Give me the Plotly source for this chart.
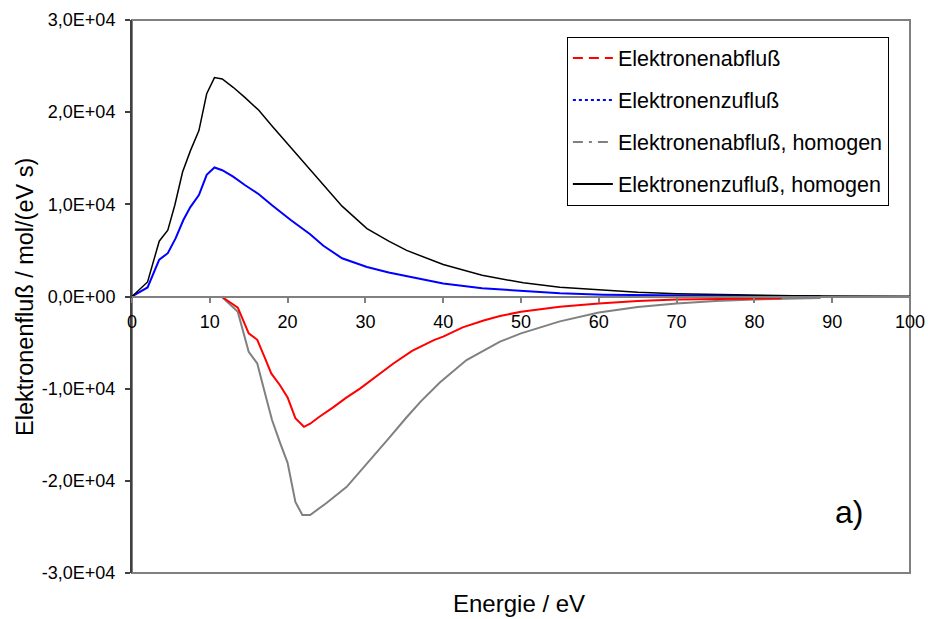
import plotly.graph_objects as go

# Energie / eV und Elektronenfluss / mol/(eV s)
x_abfluss = [11.5, 12.5, 13.6, 15.0, 16.1, 17.0, 17.9, 19.0, 20.0, 21.0, 22.1, 22.9, 24.0,
             25.9, 27.5, 29.3, 31.5, 33.6, 36.0, 38.8, 40.0, 42.5, 45.2, 47.3, 50.0, 55.0,
             60.0, 65.0, 70.0, 75.0, 80.0, 83.5]
y_abfluss = [0, -600, -1200, -4000, -4700, -6500, -8350, -9600, -10950, -13200, -14140, -13800,
             -13100, -12000, -11000, -10000, -8600, -7270, -5900, -4740, -4350, -3350, -2600,
             -2120, -1650, -1100, -760, -500, -330, -250, -200, -180]

x_zufluss = [0, 2.0, 3.5, 4.6, 5.6, 6.6, 7.5, 8.6, 9.6, 10.6, 11.6, 13.0, 14.5, 16.3, 18.0,
             20.4, 22.9, 24.6, 27.0, 30.2, 33.0, 35.3, 40.0, 45.0, 50.3, 55.0, 60.6, 65.0,
             70.0, 75.0, 80.0, 88.5]
y_zufluss = [0, 980, 4000, 4700, 6300, 8300, 9700, 11000, 13200, 14000, 13700, 13000, 12100,
             11100, 9900, 8300, 6750, 5500, 4150, 3200, 2600, 2200, 1400, 900, 570, 350, 200,
             140, 100, 70, 50, 30]

x_abfluss_hom = [11.5, 12.5, 13.6, 15.0, 16.1, 17.0, 18.0, 19.0, 20.0, 21.0, 21.9, 22.9, 25.0,
                 27.6, 29.0, 31.0, 33.0, 35.3, 37.1, 39.6, 43.0, 47.3, 50.0, 55.0, 60.0, 65.0,
                 70.0, 75.0, 80.0, 88.5]
y_abfluss_hom = [0, -800, -1670, -6000, -7270, -10200, -13400, -15800, -18050, -22300, -23700,
                 -23700, -22400, -20650, -19300, -17400, -15400, -13100, -11400, -9300, -6900,
                 -4900, -4000, -2700, -1740, -1150, -760, -500, -330, -150]

x_zufluss_hom = [0, 2.0, 3.5, 4.6, 5.5, 6.5, 7.5, 8.6, 9.6, 10.6, 11.6, 13.0, 14.5, 16.3, 18.0,
                 20.4, 22.9, 24.6, 27.0, 30.2, 33.0, 35.3, 40.0, 45.0, 50.3, 55.0, 60.6, 65.0,
                 70.0, 75.0, 80.0, 85.0, 90.0, 95.0, 100.0]
y_zufluss_hom = [0, 1580, 6000, 7200, 9900, 13500, 15800, 18000, 22000, 23750, 23600, 22700,
                 21600, 20200, 18500, 16200, 13750, 12200, 9800, 7370, 6000, 5000, 3470, 2300,
                 1480, 1000, 680, 450, 300, 200, 120, 80, 50, 30, 20]

y_tickvals = [-30000, -20000, -10000, 0, 10000, 20000, 30000]
y_ticktext = ["-3,0E+04", "-2,0E+04", "-1,0E+04", "0,0E+00", "1,0E+04", "2,0E+04", "3,0E+04"]
x_tickvals = [0, 10, 20, 30, 40, 50, 60, 70, 80, 90, 100]

FONT = "Liberation Sans, Arial, sans-serif"

series = [
    # name, x, y, colour, width, legend dash
    ("Elektronenabfluß", x_abfluss, y_abfluss, "#FF0000", 2, "10px,6px"),
    ("Elektronenzufluß", x_zufluss, y_zufluss, "#0000FF", 2, "3px,3px"),
    ("Elektronenabfluß, homogen", x_abfluss_hom, y_abfluss_hom, "#808080", 2, "10px,6px,3px,6px"),
    ("Elektronenzufluß, homogen", x_zufluss_hom, y_zufluss_hom, "#000000", 1.5, "solid"),
]

fig = go.Figure()

# data curves drawn solid
for name, xs, ys, col, w, dash in [series[2], series[0], series[1], series[3]]:
    fig.add_trace(go.Scatter(x=xs, y=ys, mode="lines", name=name,
                             line=dict(color=col, width=w), showlegend=False,
                             hoverinfo="skip"))

# legend entries carry the line styles
for i, (name, xs, ys, col, w, dash) in enumerate(series):
    fig.add_trace(go.Scatter(x=[None], y=[None], mode="lines", name=name,
                             legendgroup=f"g{i}",
                             line=dict(color=col, width=2, dash=dash)))

fig.update_layout(
    width=928, height=619,
    margin=dict(l=132, r=18, t=20, b=46),
    paper_bgcolor="white", plot_bgcolor="white",
    font=dict(family=FONT, color="black"),
    showlegend=True,
    legend=dict(x=0.559, y=0.97, xanchor="left", yanchor="top",
                bordercolor="#000000", borderwidth=1, bgcolor="white",
                font=dict(size=21.5, family=FONT), tracegroupgap=11,
                itemwidth=40),
    xaxis=dict(range=[0, 100], tickvals=x_tickvals, ticks="outside", ticklen=5,
               tickcolor="#808080", tickwidth=1.5, showgrid=False, zeroline=False,
               showline=True, linecolor="#808080", linewidth=2,
               anchor="free", position=0.5, tickfont=dict(size=18),
               ticklabelstandoff=4, automargin=False),
    yaxis=dict(range=[-30000, 30000], tickvals=y_tickvals, ticktext=y_ticktext,
               ticks="outside", ticklen=5, tickcolor="#404040", tickwidth=1.5,
               showgrid=False, zeroline=False, showline=True, linecolor="#404040",
               linewidth=2, tickfont=dict(size=18), ticklabelstandoff=6,
               automargin=False),
    shapes=[dict(type="rect", xref="paper", yref="paper", x0=0, x1=1, y0=0, y1=1,
                 line=dict(color="#808080", width=2), layer="below")],
    annotations=[
        dict(text="Energie / eV", xref="paper", yref="paper", x=0.498, y=-0.056,
             xanchor="center", yanchor="middle", showarrow=False,
             font=dict(size=24, family=FONT)),
        dict(text="Elektronenfluß / mol/(eV s)", xref="paper", yref="paper",
             x=-0.1383, y=0.5, textangle=-90, xanchor="center", yanchor="middle",
             showarrow=False, font=dict(size=23.5, family=FONT)),
        dict(text="a)", xref="paper", yref="paper", x=0.921, y=0.11,
             xanchor="center", yanchor="middle", showarrow=False,
             font=dict(size=32, family=FONT)),
    ],
)

fig.write_html("out.html")
